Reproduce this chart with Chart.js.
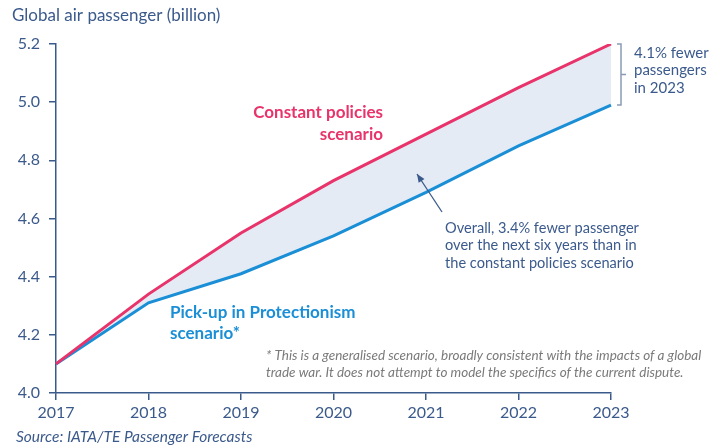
<!DOCTYPE html>
<html>
<head>
<meta charset="utf-8">
<script src="https://cdn.jsdelivr.net/npm/chart.js@4"></script>
<style>
  html, body { margin: 0; padding: 0; background: #fff; }
  #wrap { width: 723px; height: 445px; position: relative; }
</style>
</head>
<body>
<div id="wrap"><canvas id="chart" width="723" height="445"></canvas></div>
<script>
const years = ["2017", "2018", "2019", "2020", "2021", "2022", "2023"];
const constantPolicies = [4.10, 4.34, 4.55, 4.73, 4.89, 5.05, 5.20];
const protectionism = [4.10, 4.31, 4.41, 4.54, 4.69, 4.85, 4.99];
const yTicks = [4.0, 4.2, 4.4, 4.6, 4.8, 5.0, 5.2];

const FONT = "Lato, 'Open Sans', sans-serif";
const AXIS = "#3b5a8c";
const PINK = "#e8336b";
const BLUE = "#1b8fd6";

function drawLines(ctx, lines, x, y, step, align) {
  ctx.textAlign = align;
  lines.forEach((t, i) => ctx.fillText(t, x, y + i * step));
}

const notes = {
  id: "notes",
  afterDraw(chart) {
    const ctx = chart.ctx;
    const xs = chart.scales.x;
    const ys = chart.scales.y;
    ctx.save();
    ctx.textBaseline = "middle";

    // title + source
    ctx.fillStyle = AXIS;
    ctx.font = "17px " + FONT;
    drawLines(ctx, ["Global air passenger (billion)"], 12, 16, 0, "left");
    ctx.font = "italic 15.5px " + FONT;
    drawLines(ctx, ["Source: IATA/TE Passenger Forecasts"], 16, 437, 0, "left");

    // series labels
    ctx.font = "bold 17px " + FONT;
    ctx.fillStyle = PINK;
    drawLines(ctx, ["Constant policies", "scenario"], 383, 113, 22, "right");
    ctx.fillStyle = BLUE;
    drawLines(ctx, ["Pick-up in Protectionism", "scenario*"], 170, 313, 21, "left");

    // footnote
    ctx.fillStyle = "#7a7a7a";
    ctx.font = "italic 13.5px " + FONT;
    drawLines(ctx, [
      "* This is a generalised scenario, broadly consistent with the impacts of a global",
      "trade war. It does not attempt to model the specifics of the current dispute."
    ], 266, 356, 17, "left");

    // overall note with arrow
    ctx.fillStyle = AXIS;
    ctx.font = "14.6px " + FONT;
    drawLines(ctx, [
      "Overall, 3.4% fewer passenger",
      "over the next six years than in",
      "the constant policies scenario"
    ], 445, 228, 17.5, "left");

    const ax0 = 442, ay0 = 212, ax1 = 417, ay1 = 174;
    ctx.strokeStyle = AXIS;
    ctx.lineWidth = 1.3;
    ctx.beginPath();
    ctx.moveTo(ax0, ay0);
    ctx.lineTo(ax1, ay1);
    ctx.stroke();
    const ang = Math.atan2(ay1 - ay0, ax1 - ax0);
    ctx.beginPath();
    ctx.moveTo(ax1, ay1);
    ctx.lineTo(ax1 - 9 * Math.cos(ang - 0.4), ay1 - 9 * Math.sin(ang - 0.4));
    ctx.lineTo(ax1 - 9 * Math.cos(ang + 0.4), ay1 - 9 * Math.sin(ang + 0.4));
    ctx.closePath();
    ctx.fill();

    // bracket at 2023
    const bx = xs.getPixelForValue(6) + 6;
    const top = ys.getPixelForValue(constantPolicies[6]);
    const bot = ys.getPixelForValue(protectionism[6]);
    const mid = (top + bot) / 2;
    ctx.strokeStyle = "#8a9ab5";
    ctx.lineWidth = 1.5;
    ctx.beginPath();
    ctx.moveTo(bx, top);
    ctx.lineTo(bx + 4, top);
    ctx.lineTo(bx + 4, bot);
    ctx.lineTo(bx, bot);
    ctx.moveTo(bx + 4, mid);
    ctx.lineTo(bx + 9, mid);
    ctx.stroke();

    ctx.fillStyle = AXIS;
    ctx.font = "15px " + FONT;
    drawLines(ctx, ["4.1% fewer", "passengers", "in 2023"], bx + 17, 53, 17.5, "left");

    ctx.restore();
  }
};

new Chart(document.getElementById("chart"), {
  type: "line",
  data: {
    labels: years,
    datasets: [
      {
        label: "Constant policies scenario",
        data: constantPolicies,
        borderColor: PINK,
        borderWidth: 3,
        pointRadius: 0,
        tension: 0,
        fill: "+1",
        backgroundColor: "#e4ebf5"
      },
      {
        label: "Pick-up in Protectionism scenario*",
        data: protectionism,
        borderColor: BLUE,
        borderWidth: 3,
        pointRadius: 0,
        tension: 0,
        fill: false
      }
    ]
  },
  options: {
    responsive: false,
    animation: false,
    layout: { padding: { left: 0, right: 112, top: 44, bottom: 0 } },
    plugins: {
      legend: { display: false },
      tooltip: { enabled: false },
      filler: { drawTime: "beforeDatasetsDraw" }
    },
    scales: {
      x: {
        offset: false,
        grid: { display: true, drawOnChartArea: false, drawTicks: true, tickLength: 7, color: AXIS, lineWidth: 1.5 },
        border: { display: true, color: AXIS, width: 1.5 },
        ticks: { color: AXIS, font: { family: FONT, size: 16 }, padding: 3, maxRotation: 0 },
        afterFit(scale) { scale.height = 52; }
      },
      y: {
        min: 4.0,
        max: 5.2,
        afterBuildTicks(scale) { scale.ticks = yTicks.map(v => ({ value: v })); },
        grid: { display: true, drawOnChartArea: false, drawTicks: true, tickLength: 7, color: AXIS, lineWidth: 1.5 },
        border: { display: true, color: AXIS, width: 1.5 },
        ticks: {
          color: AXIS,
          font: { family: FONT, size: 16 },
          padding: 9,
          callback: (v) => Number(v).toFixed(1)
        },
        afterFit(scale) { scale.width = 56; }
      }
    }
  },
  plugins: [notes]
});
</script>
</body>
</html>
